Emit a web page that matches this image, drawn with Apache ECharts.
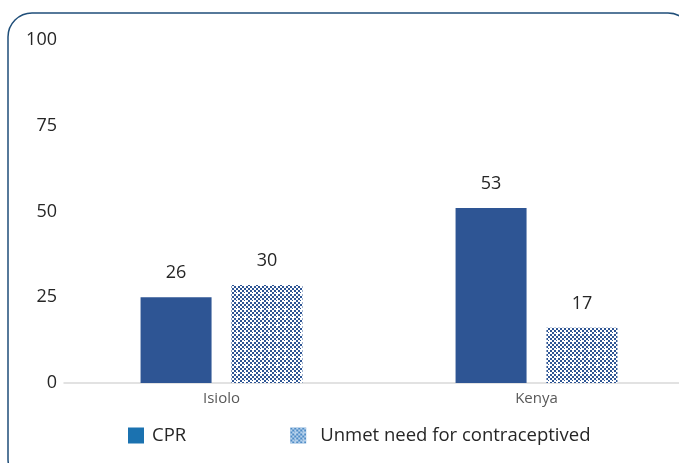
<!DOCTYPE html>
<html>
<head>
<meta charset="utf-8">
<script src="https://cdn.jsdelivr.net/npm/echarts@6/dist/echarts.min.js"></script>
<style>
  html, body { margin: 0; padding: 0; background: #fff; }
  #main { width: 679px; height: 463px; }
</style>
</head>
<body>
<div id="main"></div>
<script>
// categories and values
var categories = ['Isiolo', 'Kenya'];
var seriesNames = ['CPR', 'Unmet need for contraceptived'];
var cprValues = [25, 51];
var unmetValues = [28.6, 16.1];
// numbers printed above the bars
var cprLabels = ['26', '53'];
var unmetLabels = ['30', '17'];
var yTicks = [0, 25, 50, 75, 100];

// checkered fill for the unmet need bars
function makePattern(dark, light) {
  var c = document.createElement('canvas');
  c.width = 8; c.height = 8;
  var ctx = c.getContext('2d');
  ctx.fillStyle = light;
  ctx.fillRect(0, 0, 8, 8);
  ctx.fillStyle = dark;
  for (var i = 0; i < 4; i++) {
    for (var j = 0; j < 4; j++) {
      if ((i + j) % 2 == 0) ctx.fillRect(i * 2, j * 2, 2, 2);
    }
  }
  // small white cross
  ctx.fillStyle = light;
  ctx.fillRect(5, 4, 1, 3);
  ctx.fillRect(4, 5, 3, 1);
  return { image: c, repeat: 'repeat' };
}

var barPattern = makePattern('#2e5594', '#ffffff');
var legendPattern = makePattern('#4f8cc6', '#b7d2ec');

var myChart = echarts.init(document.getElementById('main'));
var option = {
  backgroundColor: '#fff',
  animation: false,
  textStyle: { fontFamily: 'Open Sans' },
  graphic: [
    {
      type: 'rect',
      shape: { x: 8, y: 13, width: 684, height: 470, r: 24 },
      style: { fill: 'none', stroke: '#1f4e79', lineWidth: 1.5 },
      silent: true
    }
  ],
  grid: { left: 64, width: 630, top: 40, bottom: 80, outerBoundsMode: 'none', containLabel: false },
  legend: {
    left: 128,
    top: 426,
    padding: 0,
    itemWidth: 16,
    itemHeight: 16,
    itemGap: 104,
    textStyle: { fontSize: 18.5, color: '#262626', fontFamily: 'Open Sans' },
    data: [
      { name: seriesNames[0], icon: 'rect', itemStyle: { color: '#1b72b0' },
        textStyle: { padding: [0, 0, 0, 3] } },
      { name: seriesNames[1], icon: 'rect', itemStyle: { color: legendPattern },
        textStyle: { padding: [0, 0, 0, 9] } }
    ]
  },
  xAxis: {
    type: 'category',
    data: categories,
    axisTick: { show: false },
    axisLine: { lineStyle: { color: '#d9d9d9', width: 1.5 } },
    axisLabel: { color: '#595959', fontSize: 15, margin: 8 }
  },
  yAxis: {
    type: 'value',
    min: yTicks[0],
    max: yTicks[yTicks.length - 1],
    interval: 25,
    splitLine: { show: false },
    axisLine: { show: false },
    axisTick: { show: false },
    axisLabel: { color: '#262626', fontSize: 18, margin: 7 }
  },
  series: [
    {
      name: seriesNames[0],
      type: 'bar',
      barWidth: 71,
      barGap: '28%',
      itemStyle: { color: '#2e5594' },
      label: {
        show: true,
        position: 'top',
        distance: 15,
        fontSize: 18,
        color: '#262626',
        formatter: function (p) { return cprLabels[p.dataIndex]; }
      },
      data: cprValues
    },
    {
      name: seriesNames[1],
      type: 'bar',
      barWidth: 71,
      barGap: '28%',
      itemStyle: { color: barPattern },
      label: {
        show: true,
        position: 'top',
        distance: 15,
        fontSize: 18,
        color: '#262626',
        formatter: function (p) { return unmetLabels[p.dataIndex]; }
      },
      data: unmetValues
    }
  ]
};
myChart.setOption(option);
</script>
</body>
</html>
